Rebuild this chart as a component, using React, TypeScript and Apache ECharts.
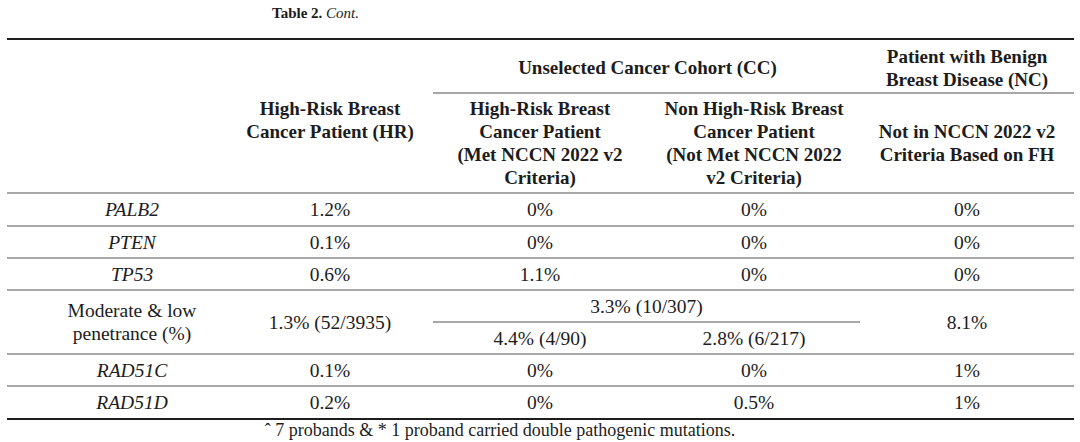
import React, { useEffect, useRef } from "react";
import * as echarts from "echarts";

// ---- Data ----
const tableTitleBold = "Table 2.";
const tableTitleItalic = "Cont.";
const groupHeaderCC = "Unselected Cancer Cohort (CC)";
const groupHeaderNC = ["Patient with Benign", "Breast Disease (NC)"];
const colHeaderHR = ["High-Risk Breast", "Cancer Patient (HR)"];
const colHeaderCCMet = ["High-Risk Breast", "Cancer Patient", "(Met NCCN 2022 v2", "Criteria)"];
const colHeaderCCNotMet = ["Non High-Risk Breast", "Cancer Patient", "(Not Met NCCN 2022", "v2 Criteria)"];
const colHeaderNC = ["Not in NCCN 2022 v2", "Criteria Based on FH"];

const rowLabels = ["PALB2", "PTEN", "TP53", "Moderate & low\npenetrance (%)", "RAD51C", "RAD51D"];
const italicRows = [true, true, true, false, true, true];
const hrValues = ["1.2%", "0.1%", "0.6%", "1.3% (52/3935)", "0.1%", "0.2%"];
const ccMetValues = ["0%", "0%", "1.1%", "4.4% (4/90)", "0%", "0%"];
const ccNotMetValues = ["0%", "0%", "0%", "2.8% (6/217)", "0%", "0.5%"];
const ncValues = ["0%", "0%", "0%", "8.1%", "1%", "1%"];
const ccModerateTotal = "3.3% (10/307)";
const splitRowIndex = 3;
const footnote = "ˆ 7 probands & * 1 proband carried double pathogenic mutations.";

// ---- Layout ----
const FONT = "'Liberation Serif', 'Times New Roman', serif";
const TEXT = "#1c1c1c";
const THIN = "#8a8a8a";
const THICK = "#1e1e1e";
const L = 7, R = 1074;
const colX = [132, 330, 540, 754, 967];
const ccLeft = 433, ccRight = 860;
const rowEdges = [193, 226, 258, 290, 354, 386, 419];
const headerLineY = 93;
const topLineY = 39;
const FS = 19.5;
const FS_BOLD = 19;

function txt(text: string, x: number, y: number, opts: any = {}) {
  return {
    type: "text",
    x,
    y,
    silent: true,
    style: {
      text,
      fill: TEXT,
      fontFamily: FONT,
      fontSize: opts.fontSize ?? (opts.bold ? FS_BOLD : FS),
      fontWeight: opts.bold ? "bold" : "normal",
      fontStyle: opts.italic ? "italic" : "normal",
      align: opts.align ?? "center",
      verticalAlign: "middle",
      textAlign: opts.align ?? "center",
      textVerticalAlign: "middle",
      lineHeight: opts.lineHeight ?? 23,
    },
  };
}

function hline(x1: number, x2: number, y: number, color: string, w: number) {
  return {
    type: "line",
    silent: true,
    shape: { x1, y1: y, x2, y2: y },
    style: { stroke: color, lineWidth: w },
  };
}

function stack(lines: string[], x: number, yFirst: number, bold = true) {
  return lines.map((s, i) => txt(s, x, yFirst + i * 23, { bold }));
}

function buildGraphic() {
  const els: any[] = [];
  // title
  els.push({
    type: "text",
    x: 272,
    y: 13,
    silent: true,
    style: {
      text: `{b|${tableTitleBold}} {i|${tableTitleItalic}}`,
      fill: TEXT,
      fontFamily: FONT,
      fontSize: 15,
      align: "left",
      verticalAlign: "middle",
      rich: {
        b: { fontFamily: FONT, fontSize: 15, fontWeight: "bold", fill: TEXT },
        i: { fontFamily: FONT, fontSize: 15, fontStyle: "italic", fill: TEXT },
      },
    },
  });
  // rules
  els.push(hline(L, R, topLineY, THICK, 2.2));
  els.push(hline(ccLeft, R, headerLineY, THIN, 1.6));
  for (let i = 0; i < rowEdges.length - 1; i++) {
    els.push(hline(L, R, rowEdges[i], THIN, 1.6));
  }
  els.push(hline(L, R, rowEdges[rowEdges.length - 1], THICK, 2.2));
  const splitMid = (rowEdges[splitRowIndex] + rowEdges[splitRowIndex + 1]) / 2;
  els.push(hline(ccLeft, ccRight, splitMid, THIN, 1.6));

  // headers
  els.push(txt(groupHeaderCC, (ccLeft + ccRight) / 2 + 1, 67, { bold: true }));
  els.push(...stack(groupHeaderNC, colX[4], 56));
  els.push(...stack(colHeaderHR, colX[1], 108));
  els.push(...stack(colHeaderCCMet, colX[2], 108));
  els.push(...stack(colHeaderCCNotMet, colX[3], 108));
  els.push(...stack(colHeaderNC, colX[4], 131));

  // body
  for (let r = 0; r < rowLabels.length; r++) {
    const top = rowEdges[r], bot = rowEdges[r + 1];
    const mid = (top + bot) / 2;
    els.push(txt(rowLabels[r], colX[0], mid, { italic: italicRows[r] }));
    els.push(txt(hrValues[r], colX[1], mid));
    if (r === splitRowIndex) {
      els.push(txt(ccModerateTotal, (ccLeft + ccRight) / 2, (top + mid) / 2));
      els.push(txt(ccMetValues[r], colX[2], (mid + bot) / 2));
      els.push(txt(ccNotMetValues[r], colX[3], (mid + bot) / 2));
    } else {
      els.push(txt(ccMetValues[r], colX[2], mid));
      els.push(txt(ccNotMetValues[r], colX[3], mid));
    }
    els.push(txt(ncValues[r], colX[4], mid));
  }

  // footnote
  els.push(txt(footnote, 500, 430, { fontSize: 18 }));
  return els;
}

export default function App() {
  const ref = useRef<HTMLDivElement>(null);
  useEffect(() => {
    if (!ref.current) return;
    const chart = echarts.init(ref.current, null, { renderer: "svg" });
    chart.setOption({
      animation: false,
      backgroundColor: "#ffffff",
      graphic: { elements: buildGraphic() },
    });
    return () => chart.dispose();
  }, []);
  return (
    <div
      ref={ref}
      style={{ position: "fixed", left: 0, top: 0, width: 1080, height: 442, background: "#fff" }}
    />
  );
}
